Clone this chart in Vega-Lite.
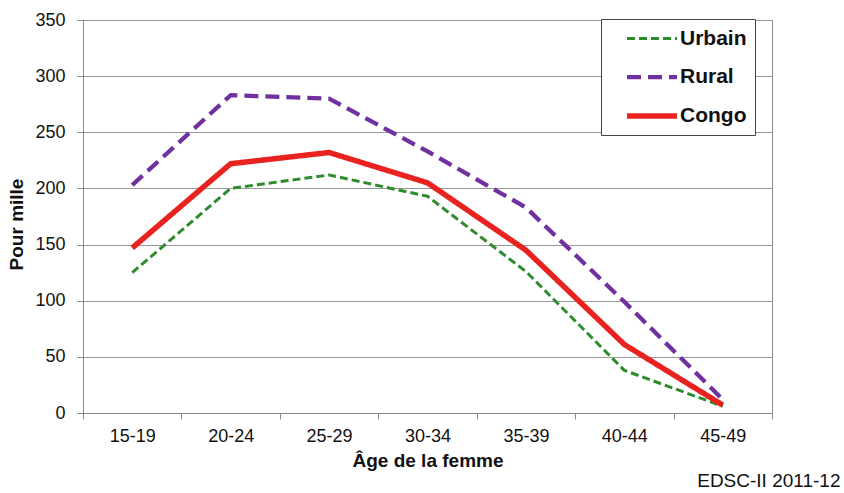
{
  "$schema": "https://vega.github.io/schema/vega-lite/v6.json",
  "width": 689,
  "height": 393,
  "autosize": {"type": "none"},
  "padding": {"left": 83, "top": 20, "right": 72, "bottom": 80},
  "background": "white",
  "title": {
    "text": "EDSC-II 2011-12",
    "orient": "bottom",
    "anchor": "end",
    "font": "Liberation Sans",
    "fontSize": 19,
    "fontWeight": "normal",
    "color": "#111",
    "dx": 68,
    "offset": 2
  },
  "data": {
    "values": [
      {"age": "15-19", "serie": "Urbain", "val": 125},
      {"age": "20-24", "serie": "Urbain", "val": 200},
      {"age": "25-29", "serie": "Urbain", "val": 212},
      {"age": "30-34", "serie": "Urbain", "val": 193},
      {"age": "35-39", "serie": "Urbain", "val": 126},
      {"age": "40-44", "serie": "Urbain", "val": 38},
      {"age": "45-49", "serie": "Urbain", "val": 6},
      {"age": "15-19", "serie": "Rural", "val": 203},
      {"age": "20-24", "serie": "Rural", "val": 283},
      {"age": "25-29", "serie": "Rural", "val": 280},
      {"age": "30-34", "serie": "Rural", "val": 233},
      {"age": "35-39", "serie": "Rural", "val": 183},
      {"age": "40-44", "serie": "Rural", "val": 99},
      {"age": "45-49", "serie": "Rural", "val": 12},
      {"age": "15-19", "serie": "Congo", "val": 147},
      {"age": "20-24", "serie": "Congo", "val": 222},
      {"age": "25-29", "serie": "Congo", "val": 232},
      {"age": "30-34", "serie": "Congo", "val": 205},
      {"age": "35-39", "serie": "Congo", "val": 145},
      {"age": "40-44", "serie": "Congo", "val": 61},
      {"age": "45-49", "serie": "Congo", "val": 7}
    ]
  },
  "mark": {"type": "line", "strokeCap": "butt", "strokeJoin": "round"},
  "encoding": {
    "x": {
      "field": "age",
      "type": "ordinal",
      "bandPosition": 0.5,
      "scale": {"type": "band", "paddingInner": 0, "paddingOuter": 0},
      "axis": {
        "title": "Âge de la femme",
        "labelAngle": 0,
        "tickBand": "extent",
        "grid": false,
        "tickSize": 6,
        "labelPadding": 8,
        "titlePadding": 6
      }
    },
    "y": {
      "field": "val",
      "type": "quantitative",
      "scale": {"domain": [0, 350], "nice": false},
      "axis": {
        "title": "Pour mille",
        "values": [0, 50, 100, 150, 200, 250, 300, 350],
        "tickSize": 6,
        "labelPadding": 12,
        "titlePadding": 8,
        "titleY": 204
      }
    },
    "color": {
      "field": "serie",
      "type": "nominal",
      "scale": {"domain": ["Urbain", "Rural", "Congo"], "range": ["#2e8b2e", "#7030a0", "#e8231f"]},
      "legend": {"title": null, "labelExpr": "datum.label + '\u00a0\u00a0\u00a0\u00a0'"}
    },
    "strokeDash": {
      "field": "serie",
      "type": "nominal",
      "scale": {"domain": ["Urbain", "Rural", "Congo"], "range": [[8, 4], [14, 7], [1, 0]]},
      "legend": {"title": null, "labelExpr": "datum.label + '\u00a0\u00a0\u00a0\u00a0'"}
    },
    "strokeWidth": {
      "field": "serie",
      "type": "nominal",
      "scale": {"domain": ["Urbain", "Rural", "Congo"], "range": [3, 5.5, 5]},
      "legend": {"title": null, "labelExpr": "datum.label + '\u00a0\u00a0\u00a0\u00a0'"}
    }
  },
  "config": {
    "view": {"stroke": "#888", "strokeWidth": 1},
    "axis": {
      "labelFont": "Liberation Sans",
      "labelFontSize": 18,
      "labelColor": "#111",
      "titleFont": "Liberation Sans",
      "titleFontSize": 19,
      "titleFontWeight": "bold",
      "titleColor": "#111",
      "domainColor": "#888",
      "tickColor": "#888",
      "gridColor": "#999",
      "gridWidth": 1
    },
    "legend": {
      "orient": "none",
      "legendX": 518,
      "legendY": -1,
      "strokeColor": "#444",
      "fillColor": "white",
      "padding": 8,
      "symbolType": "M-2.5,0H2.5",
      "symbolSize": 400,
      "symbolOffset": 30,
      "labelFont": "Liberation Sans",
      "labelFontSize": 21,
      "labelFontWeight": "bold",
      "labelColor": "#111",
      "labelOffset": 15,
      "labelLimit": 300,
      "rowPadding": 15.5
    }
  }
}
